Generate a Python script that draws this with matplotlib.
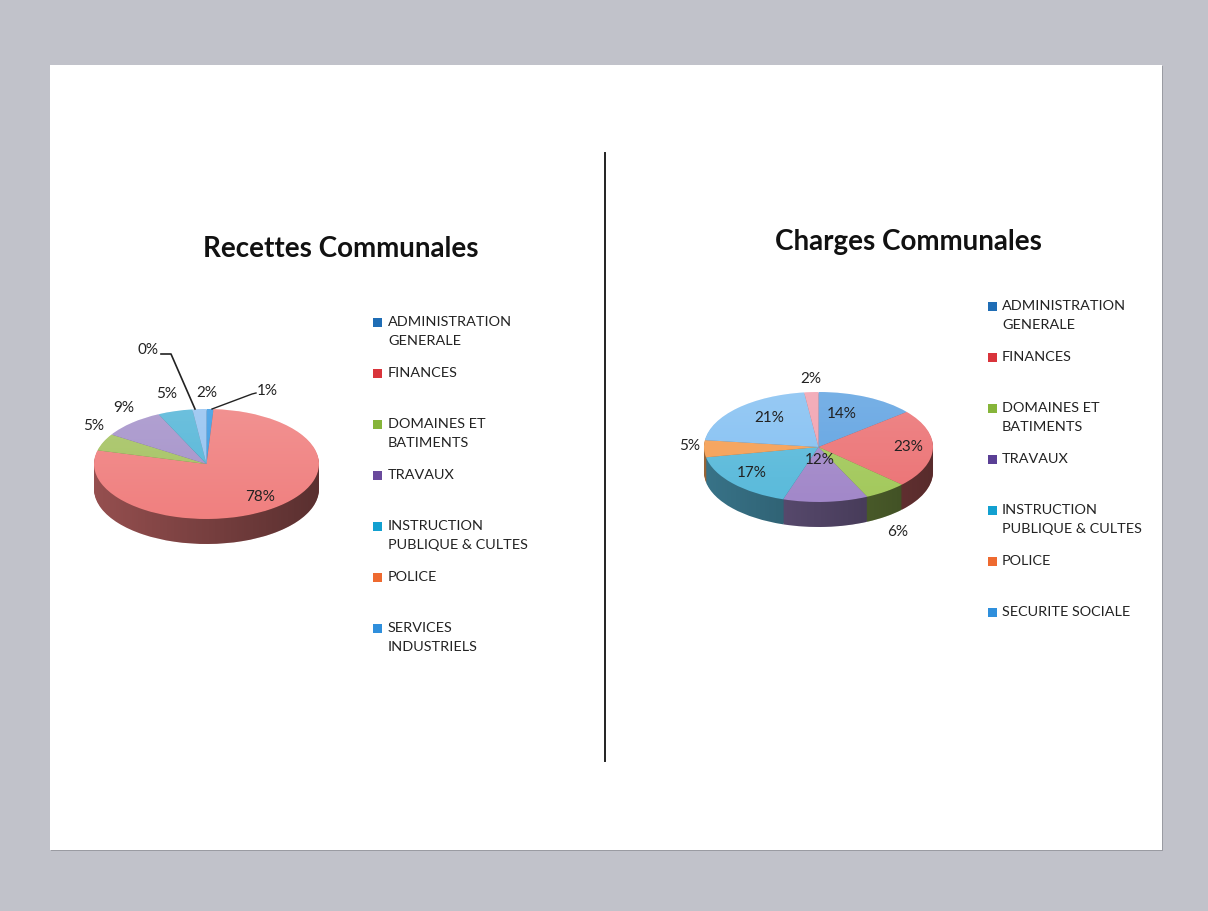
import numpy as np
import matplotlib
matplotlib.use("Agg")
import matplotlib.pyplot as plt
from matplotlib.colors import to_rgb
from matplotlib.patches import Rectangle, Ellipse, PathPatch
from matplotlib.path import Path

W, H = 1208, 911
plt.rcParams['font.family'] = ['Lato', 'DejaVu Sans']

left_title = "Recettes Communales"
left_values = [1, 78, 5, 9, 5, 0, 2]
left_colors = ['#3A9BE3', '#F0807F', '#A5C362', '#A592CA', '#55B6D8', '#F5A560', '#94C3F1']
left_legend = ["ADMINISTRATION\nGENERALE", "FINANCES", "DOMAINES ET\nBATIMENTS", "TRAVAUX",
               "INSTRUCTION\nPUBLIQUE & CULTES", "POLICE", "SERVICES\nINDUSTRIELS"]
left_swatches = ['#1F6DB5', '#D9343B', '#86B53A', '#6A4A9C', '#12A0D0', '#EE6A30', '#2F8FDC']
left_legend_y = [322, 373, 424, 475, 526, 577, 628]

right_title = "Charges Communales"
right_values = [14, 23, 6, 12, 17, 5, 21, 2]
right_colors = ['#62A4E2', '#EC7476', '#A3C95C', '#A288C9', '#5ABADB', '#F5A056', '#86C1F2', '#F2A2B0']
right_legend = ["ADMINISTRATION\nGENERALE", "FINANCES", "DOMAINES ET\nBATIMENTS", "TRAVAUX",
                "INSTRUCTION\nPUBLIQUE & CULTES", "POLICE", "SECURITE SOCIALE"]
right_swatches = ['#1F6DB5', '#D9343B', '#86B53A', '#5A3F95', '#12A0D0', '#EE6A30', '#2F8FDC']
right_legend_y = [306, 357, 408, 459, 510, 561, 612]

fig = plt.figure(figsize=(W / 100, H / 100), dpi=100, facecolor='#C1C2CA')
ov = fig.add_axes([0, 0, 1, 1], zorder=1)
ov.set_xlim(0, W); ov.set_ylim(H, 0); ov.axis('off')
ov.add_patch(Rectangle((51, 66), 1112, 785, fc='#9A9BA2', ec='none'))
ov.add_patch(Rectangle((50, 65), 1112, 785, fc='white', ec='none'))
ov.plot([605, 605], [153, 761], color='#222222', lw=1.4)

top = fig.add_axes([0, 0, 1, 1], zorder=5)
top.set_xlim(0, W); top.set_ylim(H, 0); top.axis('off')
top.patch.set_alpha(0)


def pie3d(values, colors, cx, cy, rx, ry, depth, side_factor):
    pad = depth + 6
    ax = fig.add_axes([(cx - rx - 4) / W, 1 - (cy + ry + pad) / H,
                       (2 * rx + 8) / W, (2 * ry + 4 + pad) / H], zorder=3)
    yscale = ry
    sides = [tuple(c * side_factor for c in to_rgb(col)) for col in colors]
    for k in range(depth, 0, -1):
        ax.pie(values, colors=sides, startangle=90, counterclock=False, radius=1,
               center=(0, -k / yscale), wedgeprops=dict(lw=0))
    ax.pie(values, colors=colors, startangle=90, counterclock=False, radius=1,
           center=(0, 0), wedgeprops=dict(lw=0))
    ax.set_aspect('auto')
    grad = np.linspace(0, 1, 256).reshape(1, -1)
    cmap = matplotlib.colors.LinearSegmentedColormap.from_list(
        'w', [(1, 1, 1, 0.14), (1, 1, 1, 0.0)])
    im = ax.imshow(np.linspace(0, 1, 256).reshape(-1, 1), cmap=cmap, aspect='auto',
                   extent=(-1, 1, -1, 1), origin='upper', zorder=10)
    im.set_clip_path(Ellipse((0, 0), 2, 2, transform=ax.transData))
    t = np.linspace(np.pi, 2 * np.pi, 100)
    d = depth / yscale
    vx = np.r_[np.cos(t), np.cos(t[::-1])]
    vy = np.r_[np.sin(t) - d, np.sin(t[::-1])]
    wall = Path(np.c_[vx, vy])
    cmap2 = matplotlib.colors.LinearSegmentedColormap.from_list(
        'd', [(0, 0, 0, 0.0), (0, 0, 0, 0.4)])
    im2 = ax.imshow(grad, cmap=cmap2, aspect='auto', extent=(-1, 1, -1 - d, 0),
                    zorder=10)
    im2.set_clip_path(PathPatch(wall, transform=ax.transData))
    ax.set_xlim(-(rx + 4) / rx, (rx + 4) / rx)
    ax.set_ylim(-(ry + pad) / yscale, (ry + 4) / yscale)
    return ax


pie3d(left_values, left_colors, 206.5, 464, 112.5, 55, 25, 0.62)
pie3d(right_values, right_colors, 818.5, 447, 114.5, 55, 25, 0.62)


def legend(labels, swatches, ys, xs, xt):
    for lab, col, y in zip(labels, swatches, ys):
        top.add_patch(Rectangle((xs, y - 4), 9, 9, fc=col, ec='none'))
        top.text(xt, y - 6, lab, fontsize=10.4, color='#222222', va='top', ha='left',
                 linespacing=1.7)


top.text(341, 249, left_title, fontsize=20, fontweight='bold', color='#111111',
         ha='center', va='center')
top.text(908, 242, right_title, fontsize=20, fontweight='bold', color='#111111',
         ha='center', va='center')
legend(left_legend, left_swatches, left_legend_y, 373, 388)
legend(right_legend, right_swatches, right_legend_y, 988, 1002)

left_label_pos = [(267, 391), (260, 497), (94, 426), (124, 408), (167, 394), (148, 350), (207, 393)]
right_label_pos = [(842, 414), (908, 447), (898, 532), (820, 460), (752, 473), (690, 446), (769, 418), (811, 379)]
for v, (x, y) in zip(left_values, left_label_pos):
    top.text(x, y, f"{v}%", fontsize=11, color='#222222', ha='center', va='center')
for v, (x, y) in zip(right_values, right_label_pos):
    top.text(x, y, f"{v}%", fontsize=11, color='#222222', ha='center', va='center')

top.plot([161, 171, 195], [354, 354, 409], color='#222222', lw=1.2)
top.plot([212, 252, 256], [409, 394, 393], color='#222222', lw=1.0)

fig.savefig('out.png', dpi=100, facecolor=fig.get_facecolor())
